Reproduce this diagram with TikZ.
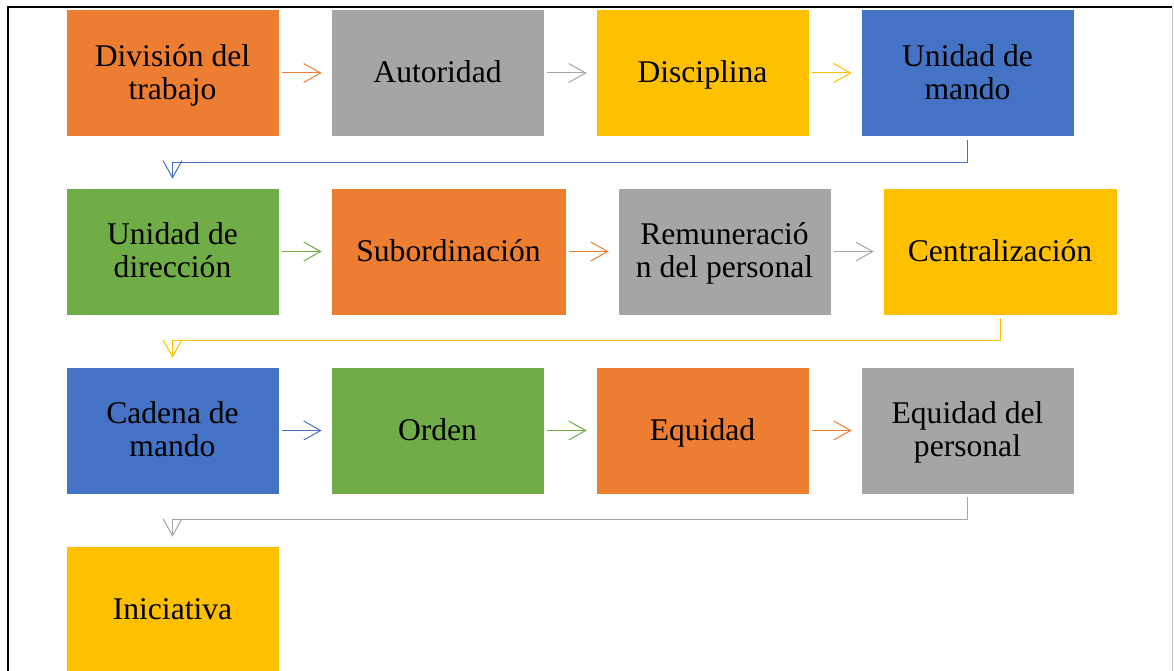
\documentclass[tikz,border=0pt]{standalone}
\usepackage{fontspec}
\setmainfont{Liberation Serif}
\usetikzlibrary{arrows.meta}
\definecolor{cOr}{HTML}{ED7D31}
\definecolor{cGr}{HTML}{A5A5A5}
\definecolor{cGo}{HTML}{FFC000}
\definecolor{cBl}{HTML}{4472C4}
\definecolor{cGn}{HTML}{70AD47}
\newcommand\bxs{\rule[-6.9pt]{0pt}{33pt}}
\tikzset{
  box/.style={draw=white, line width=0.6pt, inner sep=0pt, minimum width=213pt, minimum height=127pt,
    align=center, font=\fontsize{31.6}{33}\selectfont, text=black},
  conn/.style={line width=1pt, -{Straight Barb[length=17pt, width=19pt, line width=1pt]}, shorten <=3pt, shorten >=9pt},
}
\begin{document}
\begin{tikzpicture}[x=1pt,y=-1pt]
\useasboundingbox (0,0) rectangle (1174,671);
% frame
\draw[black, line width=2pt] (8,671) -- (8,7) -- (1172,7);
\draw[black!25, line width=1pt] (1172,7) -- (1172,671);
% row 1
\node[box, fill=cOr] (a1) at (172.5,73) {\bxs División del\\\bxs trabajo};
\node[box, fill=cGr] (a2) at (437.5,73) {\bxs Autoridad};
\node[box, fill=cGo] (a3) at (702.5,73) {\bxs Disciplina};
\node[box, fill=cBl] (a4) at (967.5,73) {\bxs Unidad de\\\bxs mando};
% row 2
\node[box, fill=cGn] (b1) at (172.5,251.5) {\bxs Unidad de\\\bxs dirección};
\node[box, fill=cOr, minimum width=235pt] (b2) at (448.5,251.5) {\bxs Subordinación};
\node[box, fill=cGr] (b3) at (724.5,251.5) {\bxs Remuneració\\\bxs n del personal};
\node[box, fill=cGo, minimum width=234pt] (b4) at (1000,251.5) {\bxs Centralización};
% row 3
\node[box, fill=cBl] (c1) at (172.5,430.5) {\bxs Cadena de\\\bxs mando};
\node[box, fill=cGn] (c2) at (437.5,430.5) {\bxs Orden};
\node[box, fill=cOr] (c3) at (702.5,430.5) {\bxs Equidad};
\node[box, fill=cGr] (c4) at (967.5,430.5) {\bxs Equidad del\\\bxs personal};
% row 4
\node[box, fill=cGo] (d1) at (172.5,609.5) {\bxs Iniciativa};
% horizontal arrows
\draw[conn, cOr] (a1) -- (a2);
\draw[conn, cGr] (a2) -- (a3);
\draw[conn, cGo] (a3) -- (a4);
\draw[conn, cGn] (b1) -- (b2);
\draw[conn, cOr] (b2) -- (b3);
\draw[conn, cGr] (b3) -- (b4);
\draw[conn, cBl] (c1) -- (c2);
\draw[conn, cGn] (c2) -- (c3);
\draw[conn, cOr] (c3) -- (c4);
% elbow connectors
\draw[conn, cBl] (a4.south) -- ++(0,26) -| (b1.north);
\draw[conn, cGo] (b4.south) -- ++(0,25) -| (c1.north);
\draw[conn, cGr] (c4.south) -- ++(0,25) -| (d1.north);
\end{tikzpicture}
\end{document}
